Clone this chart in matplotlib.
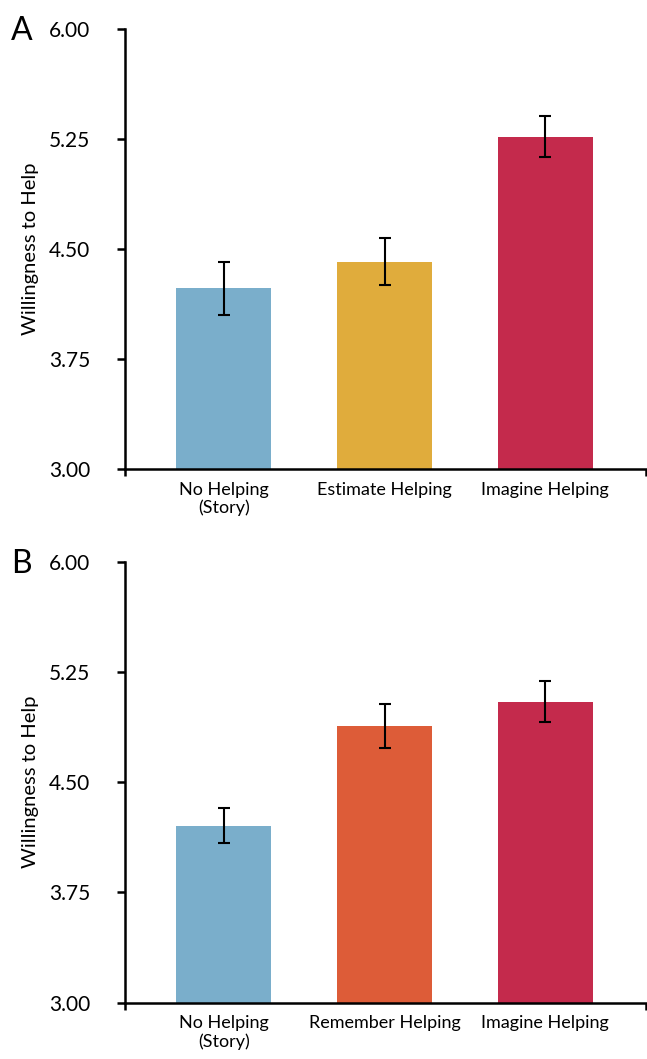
import numpy as np
import matplotlib.pyplot as plt

# ------------------------------------------------------------
# Data
# ------------------------------------------------------------
labels_a = ["No Helping\n(Story)", "Estimate Helping", "Imagine Helping"]
means_a = [4.234, 4.415, 5.267]
errs_a = [0.18, 0.16, 0.14]
colors_a = ["#7aaecb", "#e0ac3c", "#c42a4c"]

labels_b = ["No Helping\n(Story)", "Remember Helping", "Imagine Helping"]
means_b = [4.204, 4.882, 5.048]
errs_b = [0.12, 0.15, 0.14]
colors_b = ["#7aaecb", "#dd5c38", "#c42a4c"]

yticks = [3.00, 3.75, 4.50, 5.25, 6.00]

plt.rcParams["font.family"] = ["Lato", "DejaVu Sans"]


def draw_panel(ax, labels, means, errs, colors, letter):
    x = np.arange(len(labels))
    ax.bar(x, np.array(means) - 3.0, bottom=3.0, width=0.59,
           color=colors, edgecolor="none", zorder=2)
    ax.errorbar(x, means, yerr=errs, fmt="none", ecolor="black",
                elinewidth=1.5, capsize=4, capthick=1.5, zorder=3)
    ax.set_ylim(3.0, 6.0)
    xlo, xhi = -0.615, 2.627
    ax.set_xlim(xlo, xhi)
    ax.set_yticks(yticks)
    ax.set_yticklabels([f"{v:.2f}" for v in yticks], fontsize=15)
    ax.set_xticks(x)
    ax.set_xticklabels(labels, fontsize=13, linespacing=1.15)
    ax.tick_params(axis="x", which="major", length=0, pad=9)
    ax.set_xticks([xlo, xhi], minor=True)
    ax.tick_params(axis="x", which="minor", length=5, width=1.8)
    ax.tick_params(axis="y", length=6, width=1.8, pad=19)
    for s in ("top", "right"):
        ax.spines[s].set_visible(False)
    for s in ("left", "bottom"):
        ax.spines[s].set_linewidth(1.8)
    ax.set_ylabel("Willingness to Help", fontsize=14.5)
    ax.yaxis.set_label_coords(-0.165, 0.5)
    ax.text(-0.219, 0.995, letter, transform=ax.transAxes, fontsize=23,
            ha="left", va="center")


fig = plt.figure(figsize=(6.47, 10.59), dpi=100)
ax_a = fig.add_axes([0.1932, 0.5568, 0.8053, 0.4158])
ax_b = fig.add_axes([0.1932, 0.0532, 0.8053, 0.4164])

draw_panel(ax_a, labels_a, means_a, errs_a, colors_a, "A")
draw_panel(ax_b, labels_b, means_b, errs_b, colors_b, "B")

fig.savefig("out.png", dpi=100)
